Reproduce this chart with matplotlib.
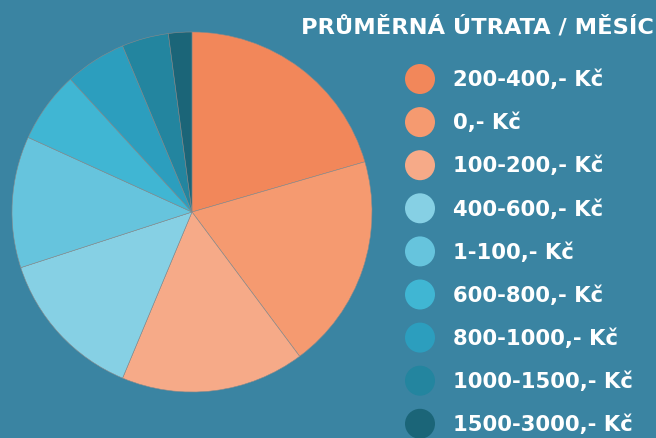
import matplotlib
matplotlib.use("Agg")
import matplotlib.pyplot as plt
from matplotlib.patches import Circle

categories = ["200-400,- Kč", "0,- Kč", "100-200,- Kč", "400-600,- Kč", "1-100,- Kč",
              "600-800,- Kč", "800-1000,- Kč", "1000-1500,- Kč", "1500-3000,- Kč"]
values = [20.5, 19.3, 16.5, 13.7, 11.8, 6.4, 5.5, 4.2, 2.1]
colors = ["#F2875A", "#F59A70", "#F6AA88", "#86D0E4", "#66C4DD",
          "#40B6D3", "#2C9EBE", "#23859F", "#1B6578"]
title = "PRŮMĚRNÁ ÚTRATA / MĚSÍC"

W, H = 656, 439
bg = "#3A84A2"
fig = plt.figure(figsize=(W / 100, H / 100), dpi=100, facecolor=bg)

# pie
cx, cy, r = 192, 213, 180
ax = fig.add_axes([(cx - r) / W, (H - cy - r) / H, 2 * r / W, 2 * r / H])
ax.set_facecolor(bg)
ax.pie(values, colors=colors, startangle=90, counterclock=False, radius=1,
       wedgeprops=dict(edgecolor="#8a8a8a", linewidth=0.4))
ax.set_xlim(-1, 1)
ax.set_ylim(-1, 1)
ax.set_aspect("equal")
ax.axis("off")

# legend
fam = ["DejaVu Sans"]
fig.text(301 / W, 1 - 27 / H, title, color="white", fontsize=16.2, fontweight="bold",
         family=fam, ha="left", va="center")

lax = fig.add_axes([0, 0, 1, 1], facecolor="none")
lax.set_xlim(0, W)
lax.set_ylim(H, 0)
lax.axis("off")
y0, dy = 80, 43.1
for i, (lab, col) in enumerate(zip(categories, colors)):
    y = y0 + i * dy
    lax.add_patch(Circle((420, y), 15, color=col, lw=0))
    lax.text(453, y, lab, color="white", fontsize=15.2, fontweight="bold",
             family=fam, ha="left", va="center")

fig.savefig("out.png", dpi=100, facecolor=bg)
